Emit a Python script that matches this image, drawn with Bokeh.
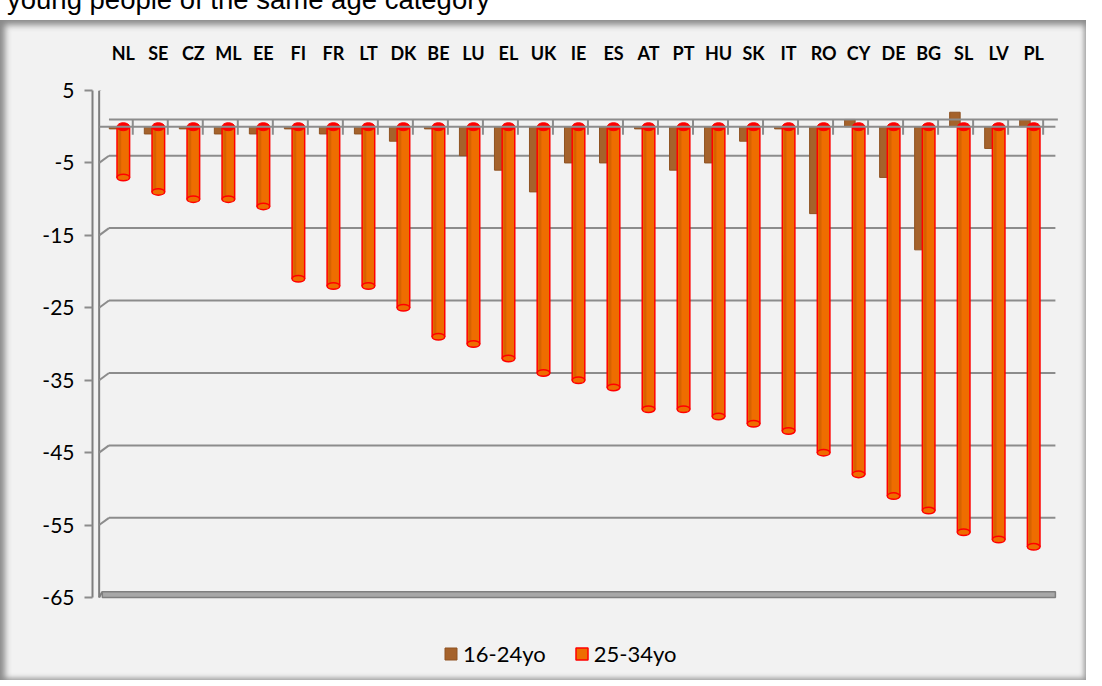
from bokeh.plotting import figure
from bokeh.models import FactorRange, FixedTicker, Legend, LegendItem, Div, ColumnDataSource
from bokeh.transform import dodge
from bokeh.layouts import column
from bokeh.embed import file_html
from bokeh.resources import INLINE

countries = ["NL", "SE", "CZ", "ML", "EE", "FI", "FR", "LT", "DK", "BE", "LU", "EL", "UK", "IE",
             "ES", "AT", "PT", "HU", "SK", "IT", "RO", "CY", "DE", "BG", "SL", "LV", "PL"]
young_16_24 = [-0.3, -1, -0.3, -1, -1, -0.3, -1, -1, -2, -0.3, -4, -6, -9, -5,
               -5, -0.3, -6, -5, -2, -0.3, -12, 1, -7, -17, 2, -3, 1]
young_25_34 = [-7, -9, -10, -10, -11, -21, -22, -22, -25, -29, -30, -32, -34, -35,
               -36, -39, -39, -40, -41, -42, -45, -48, -51, -53, -56, -57, -58]
y_ticks = [5, -5, -15, -25, -35, -45, -55, -65]
y_tick_labels = ["5", "-5", "-15", "-25", "-35", "-45", "-55", "-65"]
series_names = ["16-24yo", "25-34yo"]
title_text = "young people of the same age category"

n = len(countries)
src = ColumnDataSource(dict(cat=countries, a=young_16_24, b=young_25_34,
                            zero=[0] * n, back=[1] * n, low=[-1.1] * n))

# 3-D style back-wall grid lines (one unit above the front tick)
grid_src = ColumnDataSource(dict(y=y_ticks[:-1], yb=[t + 1 for t in y_ticks[:-1]],
                                 l=[countries[0]] * (len(y_ticks) - 1),
                                 r=[countries[-1]] * (len(y_ticks) - 1)))
floor_src = ColumnDataSource(dict(l=[countries[0]], r=[countries[-1]],
                                  y=[y_ticks[-1]], yb=[y_ticks[-1] + 0.8]))
zero_src = ColumnDataSource(dict(l=[countries[0]], r=[countries[-1]], y=[0], yb=[1]))
axis_src = ColumnDataSource(dict(l=[countries[0]], top=[y_ticks[0]], bot=[y_ticks[-1]]))

FONT = "Lato"
GRID = "#8c8c8c"

p = figure(x_range=FactorRange(factors=countries, range_padding=0.38, range_padding_units="absolute"),
           y_range=(-75.77, 5), width=1086, height=660, output_backend="svg", toolbar_location=None,
           x_axis_location="above", min_border_left=92, min_border_right=22,
           min_border_top=70, min_border_bottom=5)

p.border_fill_alpha = 0
p.background_fill_alpha = 0
p.outline_line_color = None
p.styles = {"background-color": "#f2f2f2",
            "box-shadow": "inset 8px 8px 6px -3px #8a8a8a, inset -4px -4px 5px -2px #9a9a9a"}

# axes
xa = p.xaxis[0]
xa.axis_line_color = None
xa.major_tick_line_color = None
xa.major_label_standoff = 21
xa.major_label_text_font = FONT
xa.major_label_text_font_style = "bold"
xa.major_label_text_font_size = "18px"
xa.major_label_text_color = "black"

ya = p.yaxis[0]
ya.ticker = FixedTicker(ticks=y_ticks)
ya.major_label_overrides = {t: s for t, s in zip(y_ticks, y_tick_labels)}
ya.bounds = (y_ticks[-1], y_ticks[0])
ya.axis_line_color = "#7f7f7f"
ya.axis_line_width = 2
ya.major_tick_line_color = GRID
ya.major_tick_line_width = 2
ya.major_tick_out = 8
ya.major_tick_in = 0
ya.minor_tick_line_color = None
ya.major_label_standoff = 10
ya.major_label_text_font = FONT
ya.major_label_text_font_size = "21px"
ya.major_label_text_color = "black"

p.xgrid.grid_line_color = None
p.ygrid.grid_line_color = None

# vertical axis wall line (drawn explicitly so it is visible inside the frame)
p.segment(x0=dodge("l", -0.69, range=p.x_range), y0="top", x1=dodge("l", -0.69, range=p.x_range), y1="bot",
          source=axis_src, line_color="#7f7f7f", line_width=2)

# back-wall grid
p.segment(x0=dodge("l", -0.69, range=p.x_range), y0="y", x1=dodge("l", -0.41, range=p.x_range), y1="yb",
          source=grid_src, line_color=GRID, line_width=2)
p.segment(x0=dodge("l", -0.41, range=p.x_range), y0="yb", x1=dodge("r", 0.62, range=p.x_range), y1="yb",
          source=grid_src, line_color=GRID, line_width=2)

# floor slab
p.quad(left=dodge("l", -0.6, range=p.x_range), right=dodge("r", 0.62, range=p.x_range),
       top="yb", bottom="y", source=floor_src, fill_color="#a8a8a8", line_color="#7f7f7f", line_width=1.5)
p.segment(x0=dodge("l", -0.69, range=p.x_range), y0="y", x1=dodge("l", -0.6, range=p.x_range), y1="yb",
          source=floor_src, line_color="#7f7f7f", line_width=2)

# bars
BROWN = "#a5622b"
ORANGE = "#ee6d00"
rb = p.vbar(x=dodge("cat", -0.25, range=p.x_range), top="a", bottom=0, width=0.3, source=src,
            fill_color=BROWN, line_color="#8f5322", line_width=1)
ro = p.vbar(x=dodge("cat", 0.0, range=p.x_range), top="b", bottom=0, width=0.36, source=src,
            fill_color=ORANGE, line_color="#ff0000", line_width=1.5)
# cylinder shading stripe
p.vbar(x=dodge("cat", -0.1, range=p.x_range), top="b", bottom=0, width=0.08, source=src,
       fill_color="#c85c00", fill_alpha=0.6, line_color=None)
# rounded bottom and red top caps
p.ellipse(x=dodge("cat", 0.0, range=p.x_range), y="b", width=0.36, height=0.9, source=src,
          fill_color=ORANGE, line_color="#ff0000", line_width=1.5)
p.ellipse(x=dodge("cat", 0.0, range=p.x_range), y="zero", width=0.36, height=1.1, source=src,
          fill_color="#ff0000", line_color="#ff0000")

# zero "floor" lines with category ticks
p.segment(x0=dodge("l", -0.41, range=p.x_range), y0="yb", x1=dodge("r", 0.69, range=p.x_range), y1="yb",
          source=zero_src, line_color=GRID, line_width=2)
p.segment(x0=dodge("l", -0.69, range=p.x_range), y0="y", x1=dodge("r", 0.62, range=p.x_range), y1="y",
          source=zero_src, line_color=GRID, line_width=2)
p.segment(x0=dodge("cat", 0.27, range=p.x_range), y0="back",
          x1=dodge("cat", 0.27, range=p.x_range), y1="low", source=src,
          line_color=GRID, line_width=2)

legend = Legend(items=[LegendItem(label=series_names[0], renderers=[rb]),
                       LegendItem(label=series_names[1], renderers=[ro])],
                orientation="horizontal", location=(351, 8),
                label_text_font=FONT, label_text_font_size="22px", label_text_color="black",
                glyph_width=15, glyph_height=15, label_standoff=5, spacing=28,
                background_fill_alpha=0, border_line_color=None, padding=4, margin=0)
p.add_layout(legend, "center")

title = Div(text='<div style="margin-top:-16px;margin-left:2px;font-family:\'Liberation Sans\',Arial;'
                 'font-size:27.5px;line-height:28px;color:#000;white-space:nowrap;">' + title_text + '</div>',
            width=1086, height=18, styles={"overflow": "hidden"})

layout = column(title, p, spacing=0, styles={"margin-top": "-8px"})
open("out.html", "w").write(file_html(layout, INLINE))
